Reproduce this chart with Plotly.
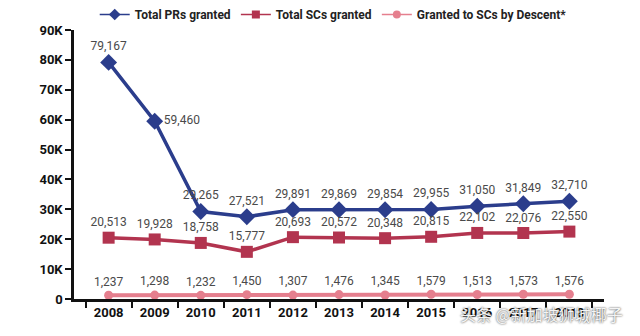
import plotly.graph_objects as go

years = ["2008", "2009", "2010", "2011", "2012", "2013", "2014", "2015", "2016", "2017", "2018"]
prs = [79167, 59460, 29265, 27521, 29891, 29869, 29854, 29955, 31050, 31849, 32710]
scs = [20513, 19928, 18758, 15777, 20693, 20572, 20348, 20815, 22102, 22076, 22550]
descent = [1237, 1298, 1232, 1450, 1307, 1476, 1345, 1579, 1513, 1573, 1576]
y_ticks = [0, 10000, 20000, 30000, 40000, 50000, 60000, 70000, 80000, 90000]
y_tick_text = ["0", "10K", "20K", "30K", "40K", "50K", "60K", "70K", "80K", "90K"]
series_names = ["Total PRs granted", "Total SCs granted", "Granted to SCs by Descent*"]

def fmt(v):
    return f"{v:,}"

blue = "#2b3d8c"
red = "#b2344f"
pink = "#e57f8e"
lbl_font = dict(family="Roboto", size=12, color="#4a4a4a")

fig = go.Figure()
fig.add_trace(go.Scatter(
    x=years, y=prs, name=series_names[0], mode="lines+markers+text", showlegend=False,
    line=dict(color=blue, width=3.5),
    marker=dict(symbol="diamond", size=13, color=blue),
    text=[fmt(v) for v in prs],
    textposition=["top center", "middle right"] + ["top center"] * 9,
    textfont=lbl_font, cliponaxis=False,
))
fig.add_trace(go.Scatter(
    x=years, y=scs, name=series_names[1], mode="lines+markers+text", showlegend=False,
    line=dict(color=red, width=3.5),
    marker=dict(symbol="square", size=12, color=red),
    text=[fmt(v) for v in scs], textposition="top center",
    textfont=lbl_font, cliponaxis=False,
))
fig.add_trace(go.Scatter(
    x=years, y=descent, name=series_names[2], mode="lines+markers+text", showlegend=False,
    line=dict(color=pink, width=4),
    marker=dict(symbol="circle", size=9, color=pink),
    text=[fmt(v) for v in descent], textposition="top center",
    textfont=lbl_font, cliponaxis=False,
))
# legend entries with thin lines, as in the reference
for nm, col, sym, sz in zip(series_names, [blue, red, pink], ["diamond", "square", "circle"], [9, 8, 8]):
    fig.add_trace(go.Scatter(x=[None], y=[None], name=nm, mode="lines+markers",
                             line=dict(color=col, width=1.5),
                             marker=dict(symbol=sym, size=sz, color=col)))

fig.update_layout(
    width=640, height=336,
    margin=dict(l=74, r=36, t=30, b=37, autoexpand=False),
    paper_bgcolor="white", plot_bgcolor="white",
    showlegend=True,
    legend=dict(orientation="h", xref="container", yref="container", x=0.148, xanchor="left",
                y=1.0, yanchor="top",
                font=dict(family="Roboto", size=12, color="#222222", weight="bold"),
                itemwidth=30, tracegroupgap=0, bgcolor="rgba(0,0,0,0)"),
    xaxis=dict(type="category", tickson="boundaries", showline=True, linecolor="#111111",
               linewidth=2.5, ticks="outside", ticklen=6, tickwidth=2, tickcolor="#111111",
               showgrid=False, zeroline=False,
               tickfont=dict(family="Roboto", size=13, color="#111111", weight="bold")),
    yaxis=dict(range=[0, 90000], tickvals=y_ticks, ticktext=y_tick_text,
               showline=True, linecolor="#111111", linewidth=2.5, ticks="outside",
               ticklen=6, tickwidth=2, tickcolor="#111111", showgrid=False, zeroline=False,
               tickfont=dict(family="Roboto", size=13, color="#111111", weight="bold")),
    annotations=[dict(text="头条 @新加坡狮城椰子", xref="paper", yref="paper", x=1.04, y=-0.056,
                      xanchor="right", yanchor="middle", showarrow=False,
                      font=dict(family="Noto Sans CJK SC", size=16, color="#f4f4f4",
                                shadow="0px 0px 2px #222222"))],
)

fig.write_html("out.html")
